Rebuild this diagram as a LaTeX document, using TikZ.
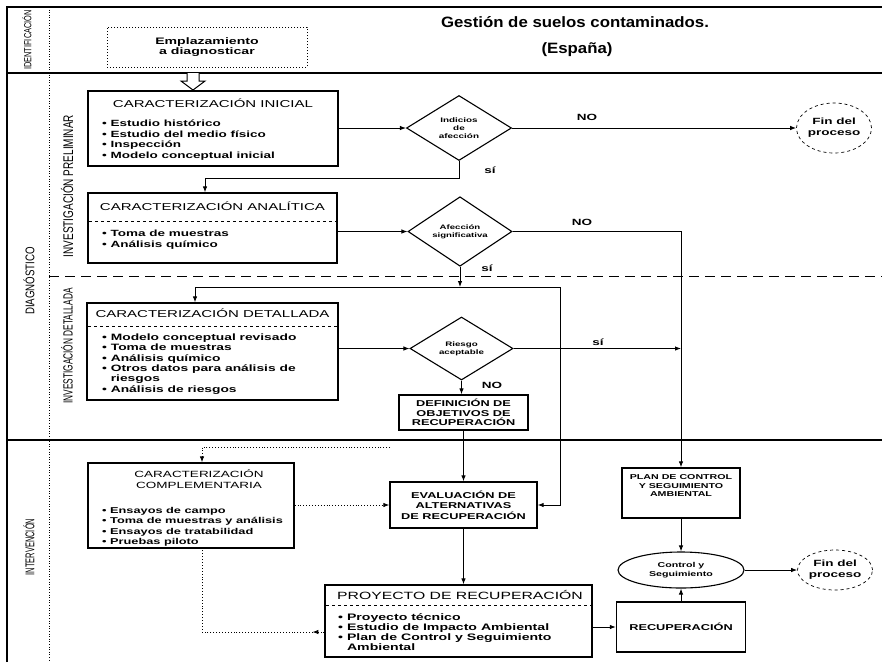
\documentclass[tikz,border=0pt]{standalone}
\usepackage{fontspec}
\setmainfont{Liberation Sans}
\newfontfamily\wf{Liberation Sans}[FakeStretch=1.5]
\newfontfamily\tf{Liberation Sans}[FakeStretch=1.12]
\usetikzlibrary{shapes.geometric,arrows.meta,calc,decorations.markings}
\newcommand{\fs}[2]{\fontsize{#1}{#2}\selectfont}
\newcommand{\frl}{\rule{0pt}{9pt}}
\begin{document}
\begin{tikzpicture}[x=1pt,y=-1pt,
  frame/.style={line width=2.2pt},
  box/.style={draw, line width=1.3pt, rectangle, inner sep=0pt},
  arr/.style={line width=0.9pt, -{Latex[length=6pt,width=4.5pt]}},
  ln/.style={line width=0.9pt},
  darr/.style={line width=0.9pt, dotted, -{Latex[length=6pt,width=4.5pt]}},
  midarr/.style={line width=0.9pt, dotted, postaction={decorate},
    decoration={markings, mark=at position 12pt with {\arrow[solid]{Latex[length=6pt,width=4.5pt]}}}},
  rulel/.style={dashed, line width=0.5pt},
  dia/.style={draw, diamond, line width=1.1pt, inner sep=0pt, align=center},
  endell/.style={draw, ellipse, dashed, line width=0.7pt, inner sep=0pt, align=center, font=\wf\bfseries\fs{9}{11}},
  ttl/.style={font=\wf\fs{10}{12}, inner sep=0pt},
  blt/.style={font=\wf\bfseries\fs{9}{10.6}, align=left, anchor=north west, inner sep=0pt},
  lab/.style={font=\wf\bfseries\fs{9}{10}, inner sep=0pt},
  side/.style={rotate=90, inner sep=0pt},
]
\useasboundingbox (0,0) rectangle (882,662);
% frame
\draw[line width=1.5pt] (7,662) -- (7,7) -- (882,7);
\draw[frame] (7,73) -- (882,73);
\draw[frame] (7,440) -- (882,440);
\draw[dashed, line width=1pt, dash pattern=on 10pt off 6pt] (49,276) -- (882,276);
\draw[dotted, line width=0.6pt] (49,7) -- (49,662);

% side labels
\node[side, font=\fs{7.4}{8}] (sid) at (27,40) {\scalebox{1}[1.4]{IDENTIFICACIÓN}};
\node[side, font=\fs{9.7}{10}] (sdiag) at (29,281) {\scalebox{1}[1.3]{DIAGNÓSTICO}};
\node[side, font=\fs{10}{10}] (sprel) at (67,186) {\scalebox{1}[1.4]{INVESTIGACIÓN PRELIMINAR}};
\node[side, font=\fs{8.3}{10}] (sdet) at (67,346) {\scalebox{1}[1.6]{INVESTIGACIÓN DETALLADA}};
\node[side, font=\fs{7.5}{10}] (sint) at (29,547) {\scalebox{1}[1.7]{INTERVENCIÓN}};

% title
\node[font=\tf\bfseries\fs{15}{18}] (tit) at (575,22) {Gestión de suelos contaminados.};
\node[font=\tf\bfseries\fs{15}{18}] (esp) at (577,50) {(España)};

% emplazamiento
\node[draw, dotted, line width=1pt, minimum width=200pt, minimum height=40pt, inner sep=0pt, font=\wf\bfseries\fs{9.4}{10}, align=center] (emp) at (207,47) {Emplazamiento\\a diagnosticar};
\draw[line width=1pt, fill=white] (187,73) -- (187,81) -- (181,81) -- (193,90) -- (205,81) -- (199,81) -- (199,73);

% caracterizacion inicial
\node[box, minimum width=250pt, minimum height=75pt] (ini) at (213,128.5) {};
\node[ttl] (iniT) at (213,103) {CARACTERIZACIÓN INICIAL};
\node[blt] (iniB) at (102,117.4) {\frl• Estudio histórico\\• Estudio del medio físico\\• Inspección\\• Modelo conceptual inicial};

% caracterizacion analitica
\node[box, minimum width=249pt, minimum height=70pt] (ana) at (212.5,228) {};
\node[ttl] (anaT) at (212.5,206) {CARACTERIZACIÓN ANALÍTICA};
\draw[rulel] ($(ana.north west)+(2,29)$) -- ($(ana.north east)+(-2,29)$);
\node[blt] (anaB) at (102,227.5) {\frl• Toma de muestras\\• Análisis químico};

% caracterizacion detallada
\node[box, minimum width=251pt, minimum height=97pt] (det) at (212.5,351.5) {};
\node[ttl] (detT) at (212.5,313) {CARACTERIZACIÓN DETALLADA};
\draw[rulel] ($(det.north west)+(2,24)$) -- ($(det.north east)+(-2,24)$);
\node[blt, font=\wf\bfseries\fs{9.2}{10.3}] (detB) at (102,331.4) {\frl• Modelo conceptual revisado\\• Toma de muestras\\• Análisis químico\\• Otros datos para análisis de\\\phantom{• }riesgos\\• Análisis de riesgos};

% diamonds
\node[dia, minimum width=105pt, minimum height=65pt, font=\wf\bfseries\fs{6.6}{8}] (d1) at (459,128) {Indicios\\de\\afección};
\node[dia, minimum width=104pt, minimum height=63pt, font=\wf\bfseries\fs{6.4}{8}] (d2) at (460,231.5) {Afección\\significativa};
\node[dia, minimum width=103pt, minimum height=63pt, font=\wf\bfseries\fs{6.5}{8}] (d3) at (461.5,348.5) {Riesgo\\aceptable};

% end ellipses
\node[endell, minimum width=75pt, minimum height=50pt] (fin1) at (834,128) {Fin del\\proceso};
\node[endell, minimum width=75pt, minimum height=40pt] (fin2) at (835,570) {Fin del\\proceso};

% definicion
\node[box, minimum width=129pt, minimum height=35pt, font=\wf\bfseries\fs{8.5}{9.5}, align=center] (def) at (463.5,412.5) {DEFINICIÓN DE\\OBJETIVOS DE\\RECUPERACIÓN};

% evaluacion
\node[box, minimum width=147pt, minimum height=46pt, font=\wf\bfseries\fs{8.5}{10.5}, align=center] (eval) at (463.5,505) {EVALUACIÓN DE\\ALTERNATIVAS\\DE RECUPERACIÓN};

% complementaria
\node[box, minimum width=206pt, minimum height=85pt] (comp) at (191,505.5) {};
\node[font=\wf\fs{9}{11.5}, align=center, inner sep=0pt] (compT) at (199,479) {CARACTERIZACIÓN\\COMPLEMENTARIA};
\node[blt, font=\wf\bfseries\fs{8.5}{10.2}] (compB) at (102,504.5) {\frl• Ensayos de campo\\• Toma de muestras y análisis\\• Ensayos de tratabilidad\\• Pruebas piloto};

% proyecto
\node[box, minimum width=267pt, minimum height=72pt] (proj) at (458.5,621) {};
\node[ttl, font=\wf\fs{10.5}{12}] (projT) at (460,595) {PROYECTO DE RECUPERACIÓN};
\draw[rulel] ($(proj.north west)+(2,21)$) -- ($(proj.north east)+(-2,21)$);
\node[blt, font=\wf\bfseries\fs{9.4}{10}] (projB) at (338,611.4) {\frl• Proyecto técnico\\• Estudio de Impacto Ambiental\\• Plan de Control y Seguimiento\\\phantom{• }Ambiental};

% plan
\node[box, minimum width=118pt, minimum height=50pt] (plan) at (681,493) {};
\node[font=\wf\bfseries\fs{7.1}{8.5}, align=center, inner sep=0pt] (planT) at (681,486) {PLAN DE CONTROL\\Y SEGUIMIENTO\\AMBIENTAL};

% control y seguimiento
\node[draw, ellipse, line width=1.1pt, minimum width=126pt, minimum height=36pt, inner sep=0pt, font=\wf\bfseries\fs{7.1}{8.5}, align=center] (cys) at (681,570) {Control y\\Seguimiento};

% recuperacion
\node[box, minimum width=129pt, minimum height=50pt, font=\wf\bfseries\fs{8.5}{10}] (rec) at (681,627) {RECUPERACIÓN};

% connectors
\draw[arr] (ini.east |- d1.west) -- (d1.west);
\draw[arr] (d1.east) -- (fin1.west);
\coordinate (c1) at (205,178);
\draw[arr] (d1.south) |- (c1) -- (c1 |- ana.north);
\draw[arr] (ana.east |- d2.west) -- (d2.west);
\draw[arr] (d2.east) -| (plan.north);
\coordinate (c2) at (460,287);
\draw[arr] (d2.south) -- (c2);
\coordinate (c3) at (195,287);
\coordinate (c4) at (560,287);
\draw[ln] (c3) -- (c4);
\draw[arr] (c3) -- (c3 |- det.north);
\draw[arr] (c4) |- (eval.east);
\draw[arr] (det.east |- d3.west) -- (d3.west);
\coordinate (c5) at (plan.north |- d3.east);
\draw[arr] (d3.east) -- (c5);
\draw[arr] (d3.south) -- (d3.south |- def.north);
\draw[arr] (def.south) -- (def.south |- eval.north);
\coordinate (c6) at (390,447);
\coordinate (c7) at (202,447);
\draw[darr] (c6) -- (c7) -- (c7 |- comp.north);
\draw[darr] (comp.east |- eval.west) -- (eval.west);
\coordinate (c8) at (202,632);
\draw[midarr] (c8 -| proj.west) -- (c8) -- (c8 |- comp.south);
\draw[arr] (eval.south) -- (eval.south |- proj.north);
\draw[arr] (plan.south) -- (cys.north);
\draw[arr] (cys.east) -- (fin2.west);
\draw[arr] (proj.east |- rec.west) -- (rec.west);
\draw[arr] (rec.north) -- (cys.south);

% labels
\node[lab] (no1) at (587,117) {NO};
\node[lab] (si1) at (490,170) {sí};
\node[lab] (no2) at (582,222) {NO};
\node[lab] (si2) at (487,268) {sí};
\node[lab] (si3) at (598,342) {sí};
\node[lab] (no3) at (492,385) {NO};
\end{tikzpicture}
\end{document}
